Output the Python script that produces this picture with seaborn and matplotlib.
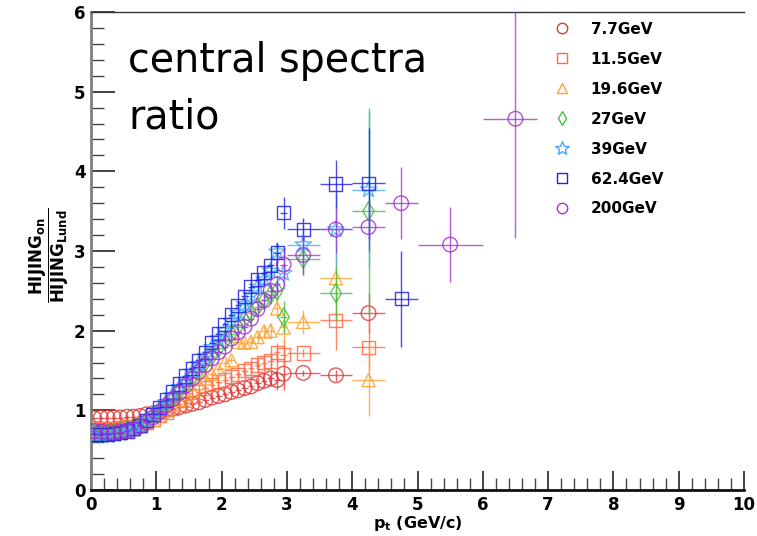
import numpy as np
import matplotlib
matplotlib.use("Agg")
import matplotlib.pyplot as plt
import seaborn as sns
from matplotlib.lines import Line2D
from matplotlib.ticker import MultipleLocator

# pt bins: fine 0.1 GeV bins up to 3, then wide bins
pt_fine = [0.05, 0.15, 0.25, 0.35, 0.45, 0.55, 0.65, 0.75, 0.85, 0.95,
           1.05, 1.15, 1.25, 1.35, 1.45, 1.55, 1.65, 1.75, 1.85, 1.95,
           2.05, 2.15, 2.25, 2.35, 2.45, 2.55, 2.65, 2.75, 2.85, 2.95]
err_fine = [0.01, 0.01, 0.01, 0.01, 0.01, 0.01, 0.01, 0.01, 0.01, 0.01,
            0.015, 0.015, 0.015, 0.02, 0.02, 0.02, 0.025, 0.025, 0.03, 0.03,
            0.035, 0.04, 0.045, 0.05, 0.06, 0.07, 0.08, 0.1, 0.12, 0.2]
pt_wide = [3.25, 3.75, 4.25, 4.75, 5.5, 6.5]
pt_wide_lo = [0.25, 0.25, 0.25, 0.25, 0.5, 0.5]
pt_wide_hi = [0.25, 0.25, 0.25, 0.25, 0.5, 0.33]

labels = ["7.7GeV", "11.5GeV", "19.6GeV", "27GeV", "39GeV", "62.4GeV", "200GeV"]
colors = ["#e03a3a", "#ff6a45", "#ffa030", "#3cc43c", "#45aaff", "#2020e6", "#a035d2"]
markers = ["o", "s", "^", "d", "*", "s", "o"]

r77 = [0.9, 0.91, 0.91, 0.91, 0.91, 0.92, 0.92, 0.93, 0.95, 0.96,
       0.98, 1.0, 1.02, 1.04, 1.06, 1.08, 1.1, 1.13, 1.16, 1.18,
       1.2, 1.23, 1.25, 1.28, 1.3, 1.34, 1.37, 1.4, 1.38, 1.46]
r115 = [0.78, 0.77, 0.77, 0.77, 0.78, 0.79, 0.8, 0.82, 0.85, 0.88,
        0.93, 0.98, 1.03, 1.08, 1.13, 1.18, 1.23, 1.28, 1.32, 1.36,
        1.38, 1.42, 1.45, 1.5, 1.53, 1.57, 1.6, 1.62, 1.73, 1.7]
r196 = [0.75, 0.74, 0.74, 0.74, 0.75, 0.76, 0.78, 0.8, 0.84, 0.88,
        0.94, 1.0, 1.07, 1.13, 1.2, 1.26, 1.34, 1.4, 1.46, 1.52,
        1.6, 1.63, 1.86, 1.85, 1.86, 1.92, 1.99, 2.0, 2.28, 2.04]
r27 = [0.72, 0.71, 0.71, 0.72, 0.73, 0.75, 0.78, 0.82, 0.87, 0.93,
       1.0, 1.08, 1.16, 1.24, 1.33, 1.42, 1.5, 1.6, 1.68, 1.78,
       1.87, 1.96, 2.05, 2.14, 2.22, 2.3, 2.38, 2.45, 2.5, 2.17]
r39 = [0.69, 0.69, 0.69, 0.7, 0.71, 0.73, 0.76, 0.8, 0.86, 0.93,
       1.02, 1.1, 1.19, 1.29, 1.38, 1.48, 1.58, 1.68, 1.79, 1.9,
       2.0, 2.12, 2.22, 2.33, 2.44, 2.55, 2.64, 2.75, 2.99, 2.72]
r624 = [0.7, 0.7, 0.7, 0.71, 0.72, 0.74, 0.77, 0.81, 0.87, 0.95,
        1.04, 1.13, 1.23, 1.33, 1.43, 1.53, 1.63, 1.73, 1.85, 1.96,
        2.08, 2.2, 2.32, 2.43, 2.55, 2.64, 2.73, 2.82, 2.98, 3.48]
r200 = [0.74, 0.73, 0.72, 0.72, 0.73, 0.74, 0.76, 0.8, 0.85, 0.91,
        0.98, 1.06, 1.14, 1.22, 1.31, 1.4, 1.48, 1.57, 1.65, 1.73,
        1.8, 1.9, 1.98, 2.05, 2.15, 2.27, 2.38, 2.5, 2.58, 2.83]

nan = np.nan
# wide-bin values and errors (nan = no point)
w77 = [1.47, 1.44, 2.22, nan, nan, nan]
w115 = [1.72, 2.13, 1.79, nan, nan, nan]
w196 = [2.11, 2.66, 1.38, nan, nan, nan]
w27 = [2.9, 2.47, 3.5, nan, nan, nan]
w39 = [3.08, 3.27, 3.77, nan, nan, nan]
w624 = [3.27, 3.84, 3.85, 2.4, nan, nan]
w200 = [2.95, 3.27, 3.3, 3.6, 3.08, 4.66]
e77 = [0.04, 0.07, 0.25, nan, nan, nan]
e115 = [0.05, 0.37, 0.3, nan, nan, nan]
e196 = [0.15, 0.3, 0.45, nan, nan, nan]
e27 = [0.2, 0.35, 1.3, nan, nan, nan]
e39 = [0.25, 0.45, 0.97, nan, nan, nan]
e624 = [0.15, 0.3, 0.7, 0.6, nan, nan]
e200 = [0.25, 0.3, 0.3, 0.45, 0.47, 1.5]

fine_vals = [r77, r115, r196, r27, r39, r624, r200]
wide_vals = [w77, w115, w196, w27, w39, w624, w200]
wide_errs = [e77, e115, e196, e27, e39, e624, e200]

sns.set_style("ticks")
plt.rcParams['font.family'] = ['DejaVu Sans']
plt.rcParams['mathtext.fontset'] = 'dejavusans'
plt.rcParams['text.color'] = 'black'
plt.rcParams['axes.labelcolor'] = 'black'
plt.rcParams['xtick.labelcolor'] = 'black'
plt.rcParams['ytick.labelcolor'] = 'black'

fig = plt.figure(figsize=(7.57, 5.36), dpi=100)
ax = fig.add_axes([91 / 757, 1 - 490 / 536, 653 / 757, 478 / 536])

for i in range(len(labels)):
    c = colors[i]
    m = markers[i]
    x = np.array(pt_fine + pt_wide)
    y = np.array(fine_vals[i] + wide_vals[i])
    yerr = np.array(err_fine + wide_errs[i])
    xlo = np.array([0.05] * len(pt_fine) + pt_wide_lo)
    xhi = np.array([0.05] * len(pt_fine) + pt_wide_hi)
    ok = ~np.isnan(y)
    ax.errorbar(x[ok], y[ok], yerr=yerr[ok], xerr=[xlo[ok], xhi[ok]], fmt='none',
                ecolor=c, elinewidth=1.0, capsize=0, alpha=0.8, zorder=2 + i)
    size = 150 if m == "*" else (110 if m == "o" else 90)
    sns.scatterplot(x=x[ok], y=y[ok], marker=m, s=size, facecolor='none',
                    edgecolor=c, linewidth=1.0, alpha=0.85, ax=ax, zorder=3 + i)

ax.set_xlim(0, 10)
ax.set_ylim(0, 6)
ax.xaxis.set_major_locator(MultipleLocator(1))
ax.xaxis.set_minor_locator(MultipleLocator(0.2))
ax.yaxis.set_major_locator(MultipleLocator(1))
ax.yaxis.set_minor_locator(MultipleLocator(0.2))
ax.tick_params(which='major', direction='in', length=17, width=1.2, color='#222222',
               labelsize=12, pad=4)
ax.tick_params(axis='x', which='major', length=14)
ax.tick_params(which='minor', direction='in', length=9, width=1.0, color='#444444')
for lab in ax.get_xticklabels() + ax.get_yticklabels():
    lab.set_fontweight('bold')

ax.spines['right'].set_visible(False)
ax.spines['left'].set_color('#808080')
ax.spines['left'].set_linewidth(2)
ax.spines['bottom'].set_color('#111111')
ax.spines['bottom'].set_linewidth(2)
ax.spines['top'].set_color('#333333')
ax.spines['top'].set_linewidth(1)

ax.set_xlabel(r'$\mathbf{p}_{\mathbf{t}}$ (GeV/c)', fontsize=11.5, fontweight='bold', labelpad=0)
ax.set_ylabel(r'$\dfrac{\mathbf{HIJING}_{\mathbf{on}}}{\mathbf{HIJING}_{\mathbf{Lund}}}$',
              fontsize=12)
ax.yaxis.set_label_coords(-0.03, 0.49)

ax.text(0.057, 0.874, "central spectra", transform=ax.transAxes, fontsize=28.5, va='baseline')
ax.text(0.057, 0.757, "ratio", transform=ax.transAxes, fontsize=28.5, va='baseline')

handles = [Line2D([], [], linestyle='none', marker=markers[i], markersize=(10 if markers[i] == "*" else 7.5),
                  markerfacecolor='none', markeredgecolor=colors[i], markeredgewidth=1.0)
           for i in range(len(labels))]
leg = ax.legend(handles, labels, loc='upper left', bbox_to_anchor=((547 - 91) / 653, (490 - 14) / 478),
                frameon=False, borderpad=0, handlelength=1.0, handletextpad=1.35,
                labelspacing=0.98, prop={'weight': 'bold', 'size': 11})

fig.savefig("out.png", dpi=100)
